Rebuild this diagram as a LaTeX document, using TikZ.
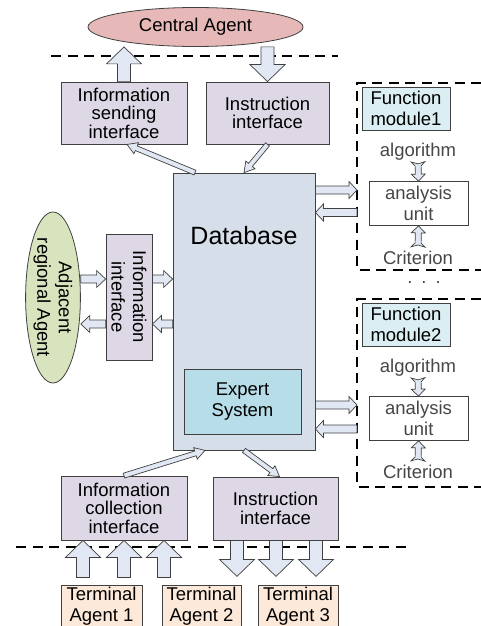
\documentclass[tikz,border=0pt]{standalone}
\usepackage{fontspec}
\setmainfont{Liberation Sans}
\usetikzlibrary{calc,shapes.geometric}

\definecolor{centralred}{RGB}{230,185,184}
\definecolor{ifacelilac}{RGB}{222,216,230}
\definecolor{dbblue}{RGB}{214,222,234}
\definecolor{expertteal}{RGB}{183,222,232}
\definecolor{modulecyan}{RGB}{219,238,243}
\definecolor{adjgreen}{RGB}{215,228,189}
\definecolor{termpeach}{RGB}{253,233,217}
\definecolor{arrowfill}{RGB}{225,232,244}
\definecolor{edgegray}{RGB}{64,64,64}
\definecolor{textgray}{RGB}{70,70,70}

\newcommand{\txtfont}{\fontsize{18.5pt}{21.5pt}\selectfont}
\newcommand{\tightfont}{\fontsize{18.5pt}{18.5pt}\selectfont}
\newcommand{\dbfont}{\fontsize{25pt}{28pt}\selectfont}

% block arrow: tail, tip, shaft half width, head half width, head length
\newcommand{\blk}[5]{%
  \draw[blkarrow] let \p1=(#1), \p2=(#2),
    \n1={atan2(\y2-\y1,\x2-\x1)}, \n2={veclen(\x2-\x1,\y2-\y1)} in
    [shift={(\p1)}, rotate=\n1]
    (0pt,#3) -- ({\n2-#5},#3) -- ({\n2-#5},#4) -- ({\n2*1pt},0pt)
    -- ({\n2-#5},-#4) -- ({\n2-#5},-#3) -- (0pt,-#3) -- cycle;}

% small arrow with a split tail: tail, tip
\newcommand{\ibeam}[2]{%
  \draw[blkarrow] let \p1=(#1), \p2=(#2),
    \n1={atan2(\y2-\y1,\x2-\x1)}, \n2={veclen(\x2-\x1,\y2-\y1)} in
    [shift={(\p1)}, rotate=\n1]
    (0pt,7pt) -- (4pt,3pt) -- ({\n2-7pt},3pt) -- ({\n2-7pt},7pt) -- ({\n2*1pt},0pt)
    -- ({\n2-7pt},-7pt) -- ({\n2-7pt},-3pt) -- (4pt,-3pt) -- (0pt,-7pt) -- (2pt,0pt) -- cycle;}

\begin{document}
\begin{tikzpicture}[x=1pt, y=-1pt,
  box/.style={draw=edgegray, line width=0.8pt, align=center, inner sep=0pt, font=\txtfont},
  iface/.style={box, fill=ifacelilac, font=\tightfont},
  modbox/.style={box, fill=modulecyan, minimum width=88pt, minimum height=43pt},
  unitbox/.style={box, fill=white, text=textgray, minimum width=99pt, minimum height=44pt},
  termbox/.style={box, fill=termpeach, minimum height=50pt, anchor=north},
  txt/.style={font=\txtfont, text=textgray, inner sep=1pt},
  blkarrow/.style={draw=edgegray, fill=arrowfill, line width=0.7pt, line join=miter},
  divline/.style={draw=black, line width=1.2pt, dash pattern=on 10pt off 6.5pt}]

  \useasboundingbox (0,0) rectangle (480,626);

  % Central agent and the two level lines
  \node[ellipse, draw=edgegray, fill=centralred, line width=0.8pt, inner sep=0pt,
        minimum width=215pt, minimum height=39pt, font=\txtfont] (central) at (195.5,27) {Central Agent};
  \draw[divline] (51,56) -- (338,56);
  \draw[divline] (16,547) -- (407,547);

  % Interfaces
  \node[iface, minimum width=126pt, minimum height=62pt] (sendif) at (124,113) {Information\\sending\\interface};
  \node[iface, minimum width=123pt, minimum height=62pt] (instrif) at (267.5,113) {Instruction\\interface};
  \node[iface, minimum width=126pt, minimum height=64pt] (collectif) at (124,508) {Information\\collection\\interface};
  \node[iface, minimum width=125pt, minimum height=63pt] (cmdif) at (275.5,508.5) {Instruction\\interface};
  \node[iface, rotate=-90, minimum width=126pt, minimum height=46pt, font=\txtfont] (infoif) at (129,297) {Information\\interface};

  % Database with expert system
  \node[box, fill=dbblue, minimum width=142pt, minimum height=277pt] (db) at (244,311.5) {};
  \node[font=\dbfont, inner sep=0pt] (dbname) at ([yshift=-63pt]db.north) {Database};
  \node[box, fill=expertteal, minimum width=117pt, minimum height=65pt] (expert) at (242.5,401.5) {Expert\\System};

  % Neighbour region
  \node[ellipse, draw=edgegray, fill=adjgreen, line width=0.8pt, rotate=-90, inner sep=0pt,
        minimum width=171pt, minimum height=53pt, align=center, font=\txtfont] (adj) at (53,297.5) {Adjacent\\regional Agent};

  % Terminal agents (cut by the page edge)
  \foreach \x/\w/\n in {101.5/81/1, 201.5/79/2, 298/80/3} {
    \node[termbox, minimum width=\w pt] (term\n) at (\x,585) {};
    \node[font=\txtfont, align=center, inner sep=0pt, anchor=north] (termname\n)
      at ([yshift=-1.5pt]term\n.north) {Terminal\\Agent \n};
  }

  % Function modules
  \coordinate (frame1) at (357,83);
  \coordinate (frame2) at (357,299);
  \draw[divline] (481,83) -- (frame1) -- (357,270) -- (481,270);
  \draw[divline] (481,299) -- (frame2) -- (357,487) -- (481,487);

  \node[modbox] (fm1) at (406,108.5) {Function\\module1};
  \node[txt] (alg1) at (418,152) {algorithm};
  \node[unitbox] (unit1) at (418.5,203.5) {analysis\\unit};
  \node[txt] (crit1) at (418,258) {Criterion};
  \node[txt] (dots) at (424,283) {.\hspace{9pt}.\hspace{9pt}.};

  \node[modbox] (fm2) at (406,324.5) {Function\\module2};
  \node[txt] (alg2) at (418,368) {algorithm};
  \node[unitbox] (unit2) at (418.5,418.5) {analysis\\unit};
  \node[txt] (crit2) at (418,472) {Criterion};

  \ibeam{alg1.south}{unit1.north}
  \ibeam{[yshift=3pt]crit1.north}{unit1.south}
  \ibeam{alg2.south}{unit2.north}
  \ibeam{[yshift=3pt]crit2.north}{unit2.south}

  % Rows of the side arrows
  \coordinate (rowin) at (0,279);
  \coordinate (rowout) at (0,324);
  \coordinate (rowa) at (0,190);
  \coordinate (rowb) at (0,212.5);
  \coordinate (rowc) at (0,405);
  \coordinate (rowd) at (0,429);

  % Up and down to the central agent
  \blk{sendif.north}{sendif.north |- central.south}{6.5pt}{17.5pt}{17pt}
  \blk{instrif.north |- central.south}{instrif.north}{6.5pt}{17.5pt}{17pt}

  % Thin links round the database
  \blk{[xshift=-49pt]db.north}{[xshift=3pt]sendif.south}{2.5pt}{6pt}{10pt}
  \blk{instrif.south}{db.north}{2.5pt}{6pt}{10pt}
  \blk{collectif.north}{[xshift=-39pt]db.south}{2.5pt}{6pt}{10pt}
  \blk{db.south}{[xshift=4pt]cmdif.north}{2.5pt}{6pt}{10pt}

  % Neighbour exchange
  \blk{adj.north |- rowin}{infoif.south |- rowin}{4pt}{8.5pt}{9pt}
  \blk{infoif.north |- rowin}{db.west |- rowin}{4pt}{8.5pt}{9pt}
  \blk{infoif.south |- rowout}{adj.north |- rowout}{4pt}{8.5pt}{9pt}
  \blk{db.west |- rowout}{infoif.north |- rowout}{4pt}{8.5pt}{9pt}

  % Database to function modules
  \blk{db.east |- rowa}{frame1 |- rowa}{4pt}{8.5pt}{8pt}
  \blk{frame1 |- rowb}{db.east |- rowb}{4pt}{8.5pt}{8pt}
  \blk{db.east |- rowc}{frame2 |- rowc}{4pt}{8.5pt}{8pt}
  \blk{frame2 |- rowd}{db.east |- rowd}{4pt}{8.5pt}{8pt}

  % Terminal agents
  \foreach \dx in {-41,0,40}
    \blk{$([xshift=\dx pt]collectif.south)+(0,37)$}{[xshift=\dx pt]collectif.south}{6.5pt}{17.5pt}{17pt};
  \foreach \dx in {-38.5,0.5,40.5}
    \blk{[xshift=\dx pt]cmdif.south}{$([xshift=\dx pt]cmdif.south)+(0,36)$}{6.5pt}{17.5pt}{17pt};

\end{tikzpicture}
\end{document}
